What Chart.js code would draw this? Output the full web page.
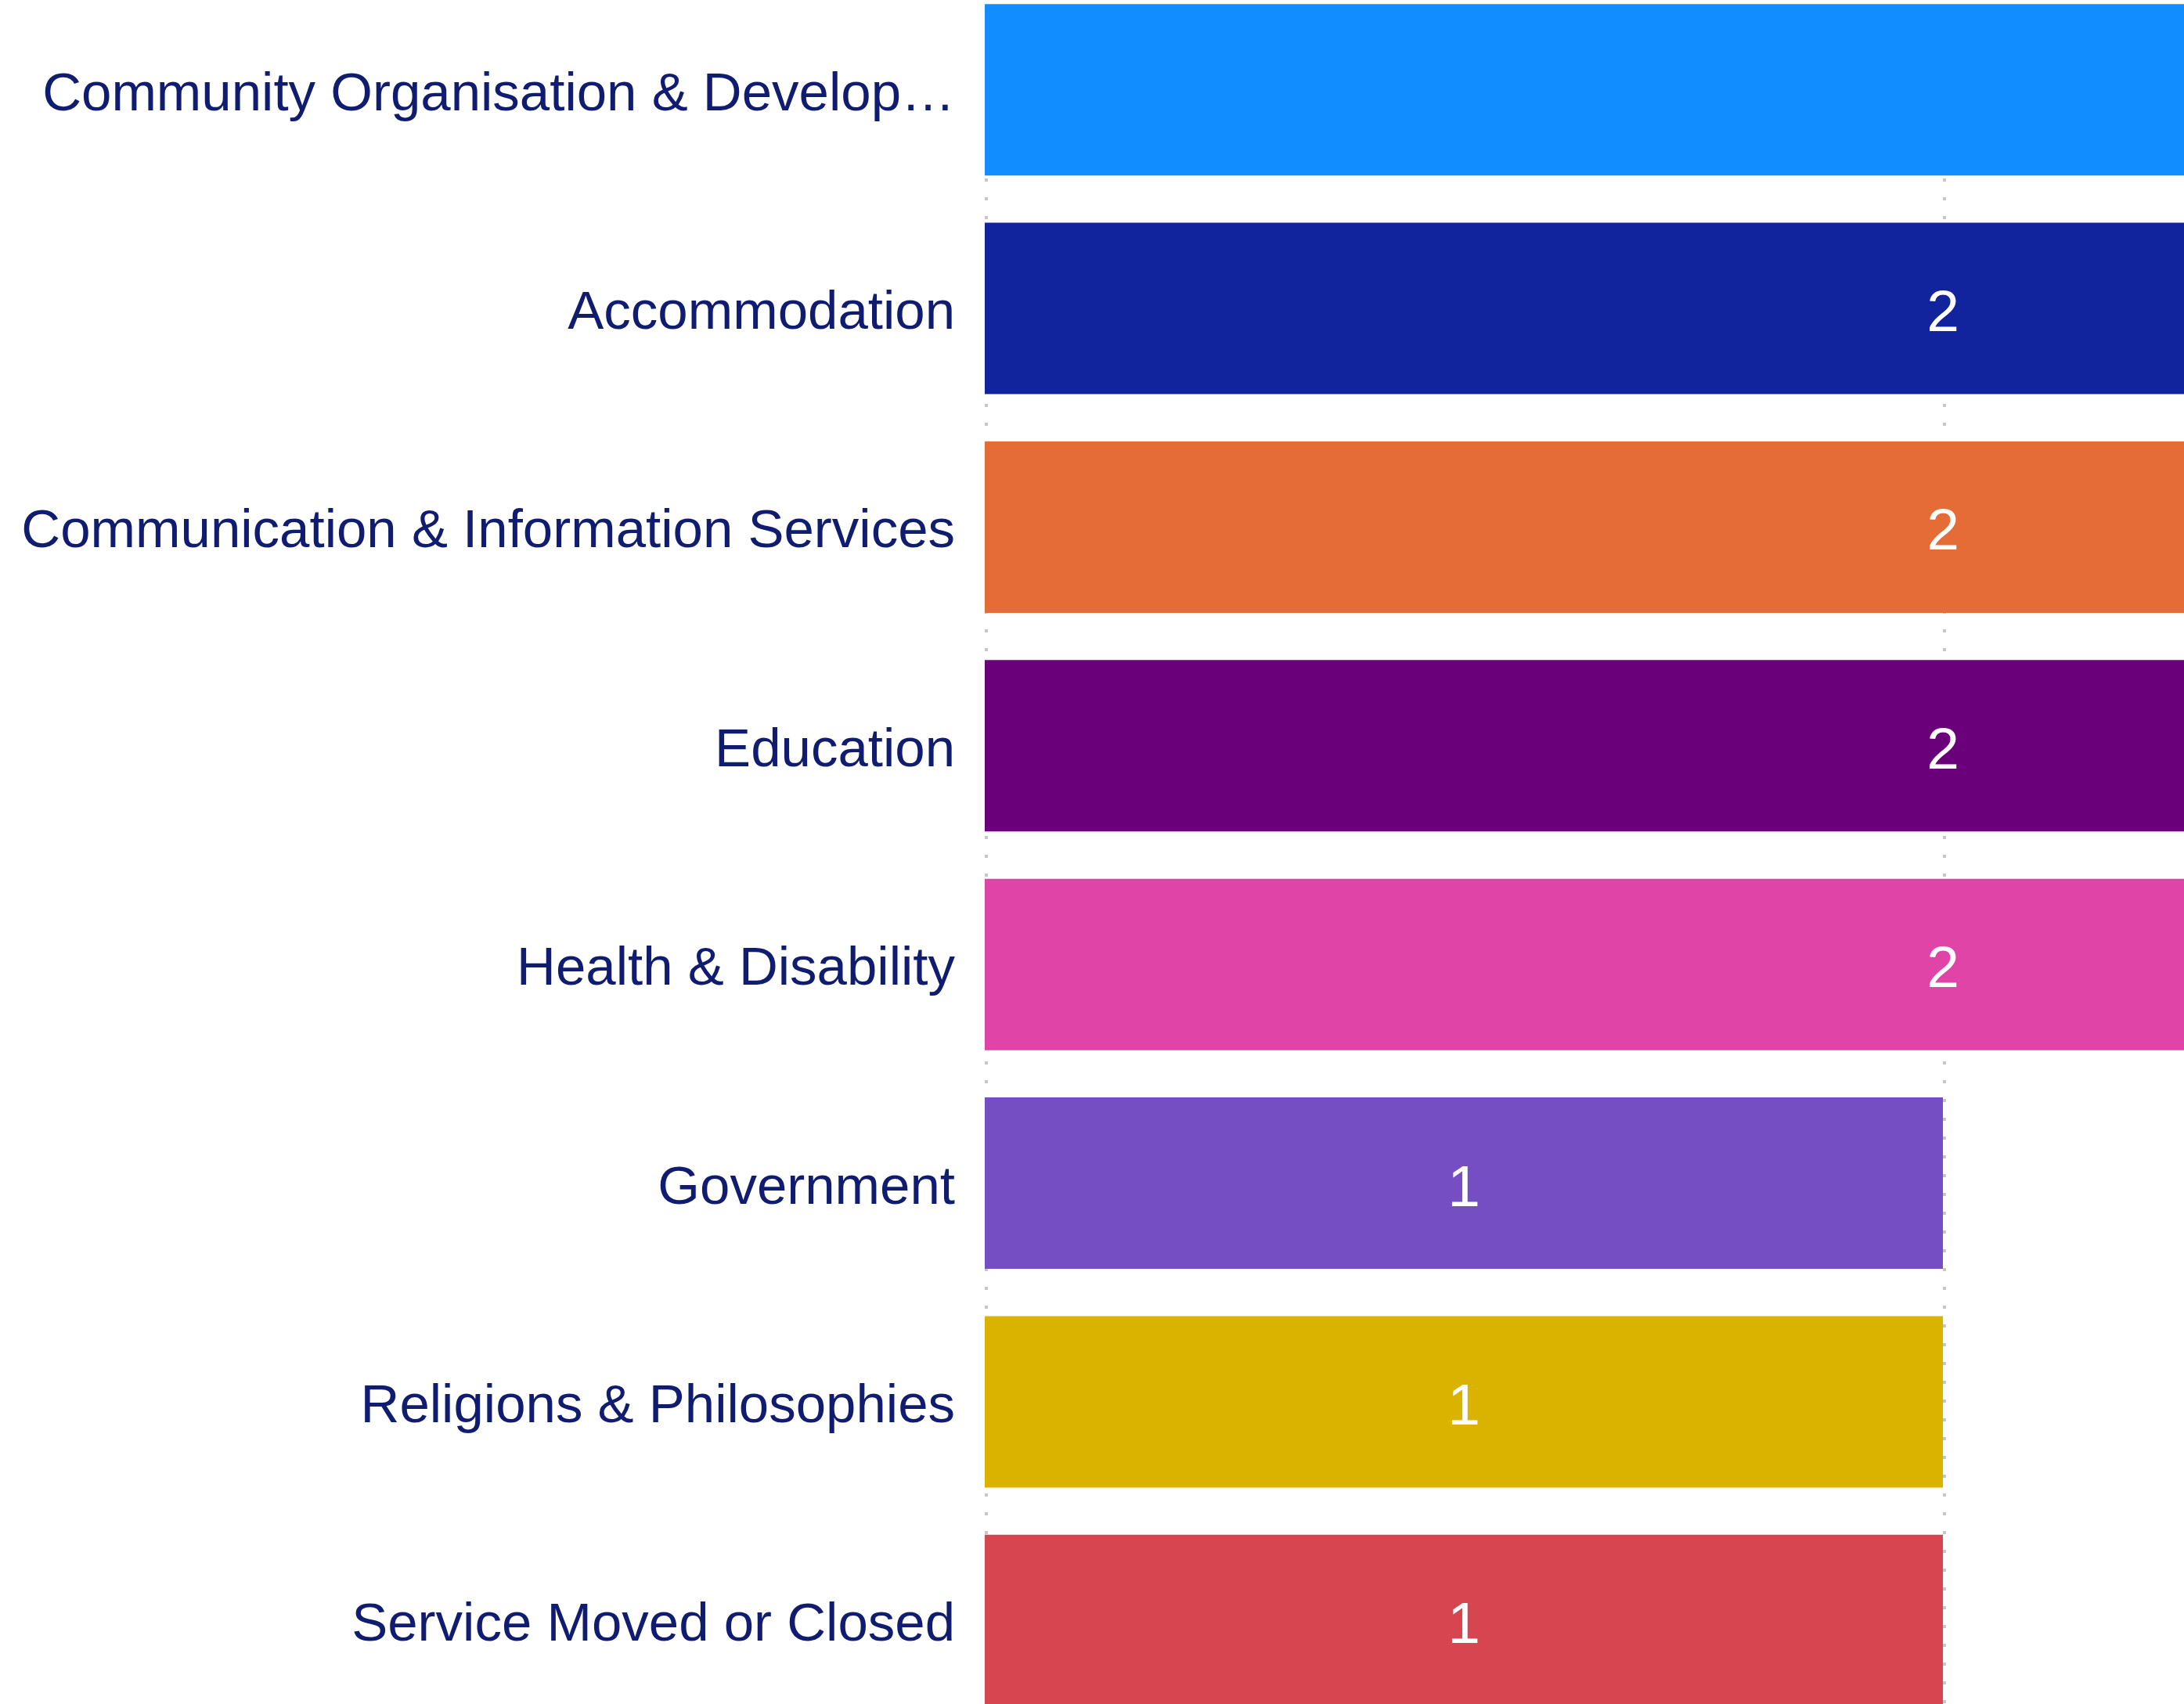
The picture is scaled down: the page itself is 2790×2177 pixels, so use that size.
<!DOCTYPE html>
<html>
<head>
<meta charset="utf-8">
<style>
  html, body { margin:0; padding:0; width:2790px; height:2177px; overflow:hidden; background:#ffffff; }
  #wrap { position:absolute; left:0; top:-25px; width:2790px; height:2235px; }
</style>
<script src="https://cdn.jsdelivr.net/npm/chart.js@4/dist/chart.umd.min.js"></script>
</head>
<body>
<div id="wrap"><canvas id="c" width="2790" height="2235"></canvas></div>
<script>
const categories = [
  "Community Organisation & Development",
  "Accommodation",
  "Communication & Information Services",
  "Education",
  "Health & Disability",
  "Government",
  "Religions & Philosophies",
  "Service Moved or Closed"
];
const counts = [3, 2, 2, 2, 2, 1, 1, 1];
const barColors = ["#118DFF", "#12239E", "#E66C37", "#6B007B", "#E044A7", "#744EC2", "#D9B300", "#D64550"];
const gridTicks = [0, 1];

const FONT = "'Liberation Sans', Arial, Helvetica, sans-serif";
const LABEL_SIZE = 69;
const MAX_LABEL_W = 1215;

const measureCtx = document.createElement('canvas').getContext('2d');
function fitLabel(t) {
  measureCtx.font = LABEL_SIZE + "px " + FONT;
  if (measureCtx.measureText(t).width <= MAX_LABEL_W) return t;
  let s = t;
  while (s.length > 1 && measureCtx.measureText(s + '…').width > MAX_LABEL_W) s = s.slice(0, -1);
  return s.trimEnd() + '…';
}

const valueLabels = {
  id: 'valueLabels',
  afterDatasetsDraw(chart) {
    const ctx = chart.ctx;
    const xs = chart.scales.x, ys = chart.scales.y;
    const area = chart.chartArea;
    ctx.save();
    ctx.font = "75px " + FONT;
    ctx.fillStyle = "#ffffff";
    ctx.textAlign = "center";
    ctx.textBaseline = "alphabetic";
    counts.forEach((v, i) => {
      const x = xs.getPixelForValue(v / 2);
      const y = ys.getPixelForValue(i);
      if (x < area.right - 20) ctx.fillText(String(v), x, y + 29);
    });
    ctx.restore();
  }
};

new Chart(document.getElementById('c'), {
  type: 'bar',
  data: {
    labels: categories,
    datasets: [{
      data: counts,
      backgroundColor: barColors,
      borderWidth: 0,
      categoryPercentage: 1.0,
      barPercentage: 0.784
    }]
  },
  options: {
    indexAxis: 'y',
    responsive: false,
    animation: false,
    layout: { padding: 0 },
    plugins: { legend: { display: false }, tooltip: { enabled: false } },
    scales: {
      x: {
        min: 0,
        max: 1.2516,
        position: 'bottom',
        // grid lines sit just to the right of their value, as in the reference
        afterBuildTicks: (s) => { s.ticks = gridTicks.map(v => ({ value: v + 0.0017 })); },
        afterFit: (s) => { s.height = 0; s.paddingLeft = 0; s.paddingRight = 0; },
        ticks: { display: false },
        grid: { color: '#c8c6c4', lineWidth: 4, drawTicks: false },
        border: { display: false, dash: [4, 20], dashOffset: 11 }
      },
      y: {
        afterFit: (s) => { s.width = 1258; s.paddingTop = 0; s.paddingBottom = 0; },
        grid: { display: false, drawTicks: false },
        border: { display: false },
        ticks: {
          padding: 38,
          labelOffset: 7,
          color: '#101c70',
          font: { family: FONT, size: LABEL_SIZE },
          callback: function (val) {
            return fitLabel(this.getLabelForValue(val));
          }
        }
      }
    }
  },
  plugins: [valueLabels]
});
</script>
</body>
</html>
